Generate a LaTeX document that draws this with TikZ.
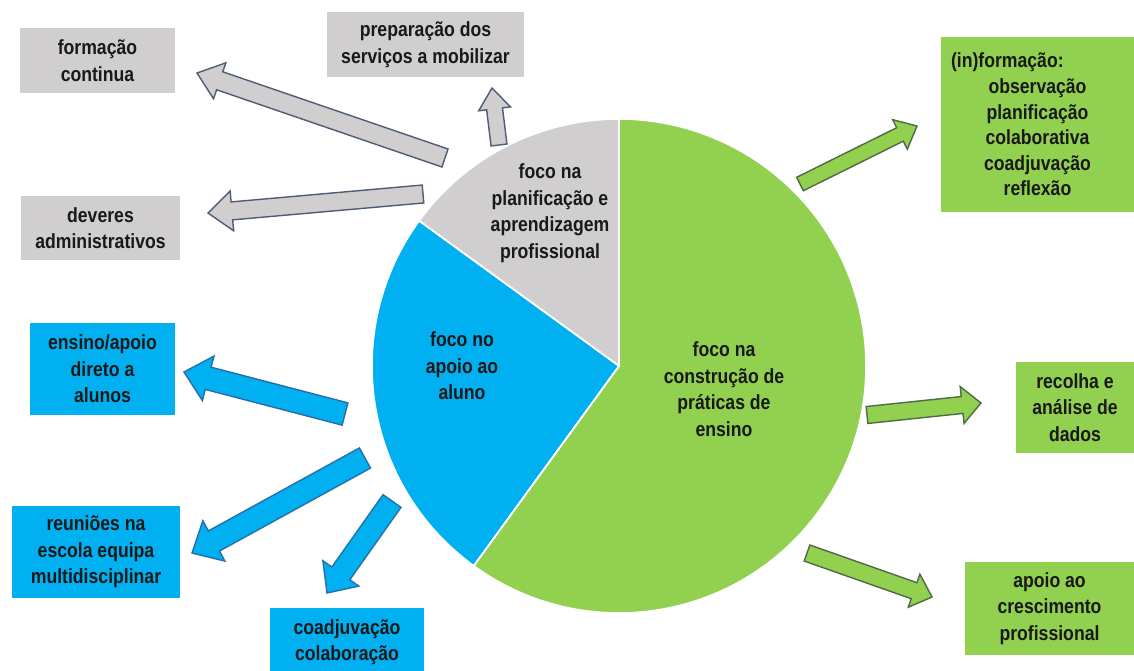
\documentclass[tikz,border=0pt]{standalone}
\usepackage{fontspec}
\setmainfont[FakeStretch=0.86]{Liberation Sans}
\usetikzlibrary{calc}
\definecolor{greyc}{RGB}{208,206,206}
\definecolor{bluec}{RGB}{0,176,240}
\definecolor{greenc}{RGB}{146,208,80}
\definecolor{greyline}{RGB}{78,92,120}
\definecolor{blueline}{RGB}{40,110,170}
\definecolor{greenline}{RGB}{80,105,70}
\definecolor{txt}{RGB}{25,25,25}
% block arrow: #1 style, #2 tail, #3 tip, #4 shaft half width, #5 head half width, #6 head length
\newcommand{\blockarr}[6]{%
  \path ($(#3)!#6!(#2)$) coordinate (hb);
  \draw[#1] ($(#2)!#4!90:(#3)$) -- ($(hb)!#4!-90:(#2)$) -- ($(hb)!#5!-90:(#2)$)
    -- (#3) -- ($(hb)!#5!90:(#2)$) -- ($(hb)!#4!90:(#2)$) -- ($(#2)!#4!-90:(#3)$) -- cycle;
}
\tikzset{
  lbl/.style={font=\fontsize{20.5}{26.5}\selectfont\bfseries, text=txt, align=center, inner sep=0pt},
  boxg/.style={lbl, fill=greyc},
  boxb/.style={lbl, fill=bluec},
  boxgr/.style={lbl, fill=greenc},
  arrg/.style={fill=greyc, draw=greyline, line width=1.4pt, line join=miter},
  arrb/.style={fill=bluec, draw=blueline, line width=1.4pt, line join=miter},
  arrgr/.style={fill=greenc, draw=greenline, line width=1.4pt, line join=miter},
  sector/.style={draw=white, line width=1.6pt}
}
\begin{document}
\begin{tikzpicture}[x=1pt,y=-1pt]
\useasboundingbox (0,0) rectangle (1134,670);
\clip (0,0) rectangle (1134,670);
\fill[white] (0,0) rectangle (1134,670);

% pie
\coordinate (C) at (619,366);
\fill[greyc, sector] (C) -- ++(-90:247) arc[start angle=-90, end angle=-144, radius=247] -- cycle;
\fill[bluec, sector] (C) -- ++(-144:247) arc[start angle=-144, end angle=-234, radius=247] -- cycle;
\fill[greenc, sector] (C) -- ++(-234:247) arc[start angle=-234, end angle=-450, radius=247] -- cycle;
\draw[white, line width=1.6pt] (C) -- ++(-90:247) (C) -- ++(-144:247) (C) -- ++(-234:247);

\node[lbl] (pg) at (550,213) {foco na\\planificação e\\aprendizagem\\profissional};
\node[lbl] (pb) at (462,366) {foco no\\apoio ao\\aluno};
\node[lbl] (pgr) at (724,389) {foco na\\construção de\\práticas de\\ensino};

% boxes
\node[boxg, minimum width=155pt, minimum height=65pt] (fc) at (97.5,60.5) {formação\\continua};
\node[boxg, minimum width=197pt, minimum height=65pt] (ps) at (425.5,44.5) {preparação dos\\serviços a mobilizar};
\node[boxg, minimum width=159pt, minimum height=64pt] (da) at (100.5,228) {deveres\\administrativos};
\node[boxb, minimum width=145pt, minimum height=92pt] (ea) at (102.5,369) {ensino/apoio\\direto a\\alunos};
\node[boxb, minimum width=168pt, minimum height=92pt] (rn) at (96,552) {reuniões na\\escola equipa\\multidisciplinar};
\node[boxb, minimum width=154pt, minimum height=68pt] (cc) at (347,642) {coadjuvação\\colaboração};
\node[boxgr, minimum width=193pt, minimum height=175pt, text width=173pt,
      font=\fontsize{20.5}{25.6}\selectfont\bfseries] (inf) at (1037.5,124.5)
  {\makebox[\linewidth][l]{(in)formação:}\\observação\\planificação\\colaborativa\\coadjuvação\\reflexão};
\node[boxgr, minimum width=118pt, minimum height=91pt] (ra) at (1075,407.5) {recolha e\\análise de\\dados};
\node[boxgr, minimum width=169pt, minimum height=93pt] (ac) at (1049.5,608.5) {apoio ao\\crescimento\\profissional};

% arrow end points
\coordinate (t1) at (445,158); \coordinate (h1) at (197,73);
\coordinate (t2) at (423,194); \coordinate (h2) at (208,213);
\coordinate (t3) at (499,145); \coordinate (h3) at (492,88);
\coordinate (t4) at (345,414); \coordinate (h4) at (184,372);
\coordinate (t5) at (365,458); \coordinate (h5) at (192,553);
\coordinate (t6) at (392,501); \coordinate (h6) at (327,593);
\coordinate (t7) at (800,184); \coordinate (h7) at (917,126);
\coordinate (t8) at (867,415); \coordinate (h8) at (981,403);
\coordinate (t9) at (807,553); \coordinate (h9) at (932,597);

\blockarr{arrg}{t1}{h1}{9.5pt}{19pt}{24pt}
\blockarr{arrg}{t2}{h2}{9pt}{20pt}{24pt}
\blockarr{arrg}{t3}{h3}{8pt}{16pt}{21pt}
\blockarr{arrb}{t4}{h4}{11.5pt}{23pt}{25pt}
\blockarr{arrb}{t5}{h5}{11.5pt}{23pt}{25pt}
\blockarr{arrb}{t6}{h6}{11pt}{22pt}{24pt}
\blockarr{arrgr}{t7}{h7}{7.5pt}{16.5pt}{19pt}
\blockarr{arrgr}{t8}{h8}{8.5pt}{18.5pt}{19pt}
\blockarr{arrgr}{t9}{h9}{8.5pt}{17.5pt}{19pt}
\end{tikzpicture}
\end{document}
